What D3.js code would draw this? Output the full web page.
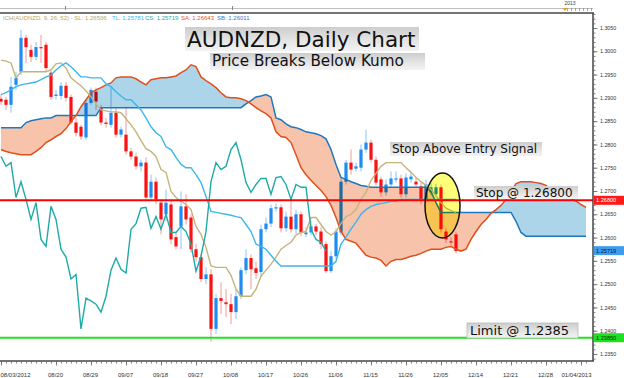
<!DOCTYPE html>
<html><head><meta charset="utf-8">
<script src="https://cdn.jsdelivr.net/npm/d3@7"></script>
<style>
html,body{margin:0;padding:0;background:#fff;}
svg{display:block;}
</style></head><body>
<svg id="c" width="624" height="378"></svg>
<script>
// ---------- DATA ----------
const tickIndex  = [0,11,18,25,32,39,46,53,60,67,74,81,88,95,102,109,116];
const tickLabels = ["08/03/2012","08/20","08/29","09/07","09/18","09/27","10/08","10/17","10/26","11/06","11/15","11/26","12/05","12/14","12/21","12/28","01/04/2013"];
const priceTicks = [1.2350,1.2400,1.2450,1.2500,1.2550,1.2600,1.2650,1.2700,1.2750,1.2800,1.2850,1.2900,1.2950,1.3000,1.3050];

const open = [1.2898,1.2896,1.2885,1.2928,1.2956,1.3029,1.3003,1.2988,1.3009,1.3014,
1.2954,1.2904,1.2904,1.2926,1.2902,1.2847,1.2838,1.2815,1.2889,1.2913,
1.2879,1.2847,1.2842,1.2868,1.2821,1.2821,1.2785,1.2774,1.2753,1.2761,
1.2686,1.2720,1.2675,1.2650,1.2671,1.2601,1.2624,1.2667,1.2643,1.2575,
1.2558,1.2511,1.2521,1.2404,1.2470,1.2461,1.2457,1.2440,1.2474,1.2530,
1.2556,1.2534,1.2526,1.2618,1.2630,1.2663,1.2665,1.2620,1.2645,1.2618,
1.2650,1.2607,1.2611,1.2624,1.2613,1.2586,1.2528,1.2560,1.2611,1.2720,
1.2761,1.2748,1.2750,1.2789,1.2804,1.2767,1.2725,1.2697,1.2714,1.2725,
1.2727,1.2693,1.2725,1.2720,1.2710,1.2682,1.2697,1.2693,1.2708,1.2613,
1.2592,1.2607];
const high = [1.2907,1.2902,1.2945,1.2956,1.3046,1.3035,1.3014,1.3020,1.3035,1.3020,
1.2960,1.2917,1.2934,1.2934,1.2907,1.2857,1.2842,1.2896,1.2922,1.2922,
1.2885,1.2857,1.2922,1.2879,1.2838,1.2881,1.2793,1.2782,1.2767,1.2772,
1.2735,1.2729,1.2682,1.2703,1.2682,1.2613,1.2699,1.2693,1.2650,1.2586,
1.2564,1.2536,1.2532,1.2479,1.2504,1.2489,1.2479,1.2489,1.2536,1.2575,
1.2564,1.2549,1.2628,1.2643,1.2671,1.2673,1.2671,1.2656,1.2684,1.2660,
1.2656,1.2622,1.2635,1.2630,1.2622,1.2592,1.2571,1.2620,1.2729,1.2767,
1.2789,1.2761,1.2800,1.2832,1.2810,1.2774,1.2731,1.2725,1.2742,1.2742,
1.2735,1.2738,1.2742,1.2729,1.2718,1.2725,1.2718,1.2716,1.2714,1.2620,
1.2601,1.2613];
const low = [1.2885,1.2874,1.2868,1.2917,1.2949,1.2975,1.2977,1.2981,1.2975,1.2956,
1.2896,1.2896,1.2896,1.2892,1.2842,1.2817,1.2810,1.2810,1.2885,1.2874,
1.2842,1.2836,1.2836,1.2815,1.2815,1.2778,1.2767,1.2746,1.2742,1.2678,
1.2682,1.2671,1.2607,1.2635,1.2586,1.2575,1.2575,1.2628,1.2568,1.2549,
1.2504,1.2500,1.2376,1.2393,1.2436,1.2429,1.2414,1.2425,1.2468,1.2521,
1.2489,1.2511,1.2515,1.2611,1.2622,1.2656,1.2611,1.2613,1.2611,1.2607,
1.2603,1.2601,1.2605,1.2605,1.2575,1.2524,1.2524,1.2553,1.2605,1.2714,
1.2735,1.2742,1.2742,1.2782,1.2761,1.2712,1.2688,1.2690,1.2708,1.2718,
1.2686,1.2686,1.2718,1.2708,1.2671,1.2675,1.2690,1.2686,1.2611,1.2588,
1.2583,1.2566];
const close = [1.2892,1.2885,1.2924,1.2943,1.3029,1.3009,1.2988,1.3009,1.3007,1.2964,
1.2902,1.2907,1.2926,1.2900,1.2847,1.2825,1.2817,1.2889,1.2917,1.2892,
1.2847,1.2844,1.2868,1.2821,1.2832,1.2785,1.2774,1.2753,1.2761,1.2686,
1.2720,1.2682,1.2639,1.2675,1.2596,1.2581,1.2667,1.2639,1.2575,1.2558,
1.2511,1.2521,1.2404,1.2470,1.2464,1.2457,1.2440,1.2474,1.2530,1.2556,
1.2532,1.2524,1.2618,1.2630,1.2663,1.2665,1.2620,1.2645,1.2618,1.2650,
1.2611,1.2611,1.2624,1.2613,1.2586,1.2528,1.2560,1.2613,1.2720,1.2761,
1.2746,1.2753,1.2789,1.2804,1.2767,1.2718,1.2697,1.2714,1.2727,1.2727,
1.2693,1.2729,1.2731,1.2714,1.2682,1.2714,1.2708,1.2708,1.2618,1.2596,
1.2590,1.2571];

const tenkan = [1.2981,1.2979,1.2975,1.2943,1.2956,1.2956,1.2956,1.2956,1.2956,1.2956,
1.2960,1.2973,1.2975,1.2964,1.2943,1.2934,1.2926,1.2915,1.2902,1.2887,
1.2874,1.2872,1.2870,1.2870,1.2868,1.2855,1.2842,1.2827,1.2808,1.2791,
1.2785,1.2774,1.2746,1.2740,1.2699,1.2686,1.2678,1.2671,1.2660,1.2624,
1.2607,1.2579,1.2539,1.2536,1.2536,1.2536,1.2519,1.2489,1.2474,1.2474,
1.2474,1.2489,1.2517,1.2530,1.2543,1.2558,1.2575,1.2583,1.2590,1.2605,
1.2611,1.2613,1.2643,1.2643,1.2628,1.2613,1.2605,1.2613,1.2630,1.2645,
1.2650,1.2660,1.2682,1.2697,1.2723,1.2738,1.2753,1.2761,1.2761,1.2761,
1.2761,1.2750,1.2740,1.2729,1.2720,1.2712,1.2703,1.2690,1.2675,1.2663,
1.2658,1.2654];
const kijun = [1.2907,1.2911,1.2917,1.2924,1.2928,1.2930,1.2932,1.2934,1.2939,1.2945,
1.2949,1.2960,1.2969,1.2975,1.2967,1.2956,1.2945,1.2945,1.2943,1.2943,
1.2943,1.2930,1.2924,1.2913,1.2904,1.2896,1.2896,1.2885,1.2874,1.2857,
1.2838,1.2825,1.2817,1.2795,1.2789,1.2772,1.2757,1.2750,1.2750,1.2735,
1.2718,1.2688,1.2656,1.2654,1.2652,1.2650,1.2648,1.2645,1.2643,1.2628,
1.2613,1.2586,1.2581,1.2575,1.2562,1.2549,1.2539,1.2539,1.2539,1.2539,
1.2539,1.2539,1.2539,1.2539,1.2539,1.2539,1.2539,1.2549,1.2586,1.2601,
1.2618,1.2633,1.2650,1.2660,1.2667,1.2671,1.2673,1.2675,1.2678,1.2678,
1.2682,1.2682,1.2682,1.2682,1.2682,1.2682,1.2682,1.2682,1.2682,1.2682,
1.2682,1.2682];
const senkouA = [1.2789,1.2785,1.2782,1.2780,1.2778,1.2778,1.2778,1.2785,1.2793,1.2804,
1.2810,1.2817,1.2823,1.2834,1.2849,1.2862,1.2881,1.2896,1.2911,1.2917,
1.2922,1.2928,1.2932,1.2943,1.2945,1.2945,1.2945,1.2941,1.2934,1.2928,
1.2939,1.2941,1.2943,1.2943,1.2945,1.2947,1.2954,1.2960,1.2971,1.2967,
1.2945,1.2937,1.2930,1.2922,1.2911,1.2902,1.2900,1.2900,1.2898,1.2894,
1.2887,1.2879,1.2872,1.2866,1.2857,1.2827,1.2817,1.2815,1.2804,1.2778,
1.2750,1.2735,1.2723,1.2712,1.2701,1.2688,1.2669,1.2643,1.2613,1.2596,
1.2592,1.2588,1.2575,1.2562,1.2558,1.2556,1.2551,1.2539,1.2549,1.2553,
1.2553,1.2556,1.2560,1.2562,1.2566,1.2571,1.2575,1.2575,1.2575,1.2579,
1.2581,1.2575,1.2571,1.2575,1.2596,1.2613,1.2628,1.2639,1.2652,1.2660,
1.2669,1.2682,1.2699,1.2716,1.2720,1.2720,1.2720,1.2718,1.2716,1.2712,
1.2703,1.2697,1.2690,1.2686,1.2684,1.2678,1.2671,1.2665];
const senkouB = [1.2836,1.2836,1.2836,1.2836,1.2836,1.2847,1.2851,1.2853,1.2855,1.2857,
1.2857,1.2862,1.2862,1.2862,1.2862,1.2862,1.2862,1.2862,1.2862,1.2862,
1.2879,1.2879,1.2879,1.2879,1.2879,1.2879,1.2879,1.2879,1.2879,1.2879,
1.2879,1.2879,1.2879,1.2879,1.2879,1.2879,1.2879,1.2879,1.2879,1.2879,
1.2879,1.2879,1.2879,1.2879,1.2879,1.2879,1.2879,1.2879,1.2879,1.2887,
1.2894,1.2902,1.2904,1.2907,1.2902,1.2857,1.2853,1.2844,1.2838,1.2836,
1.2832,1.2827,1.2825,1.2823,1.2819,1.2812,1.2789,1.2757,1.2729,1.2725,
1.2720,1.2716,1.2712,1.2710,1.2708,1.2708,1.2708,1.2708,1.2708,1.2708,
1.2708,1.2708,1.2708,1.2708,1.2708,1.2708,1.2699,1.2675,1.2654,1.2654,
1.2654,1.2654,1.2654,1.2654,1.2654,1.2654,1.2654,1.2654,1.2654,1.2654,
1.2654,1.2654,1.2654,1.2635,1.2611,1.2603,1.2603,1.2603,1.2603,1.2603,
1.2603,1.2603,1.2603,1.2603,1.2603,1.2603,1.2603,1.2603];

const chikouShift = 26;
const stopLevel = 1.26800, limitLevel = 1.23850, lastPrice = 1.25719;
const legendParts = [
  {text:"ICH(AUDNZD, 9, 26, 52) - SL: 1.26506", color:"#b5a766"},
  {text:"TL: 1.25781", color:"#3db5ee"},
  {text:"CS: 1.25719", color:"#1fa8a6"},
  {text:"SA: 1.26643", color:"#e5532c"},
  {text:"SB: 1.26011", color:"#3a78c8"}
];
const legendX = [3,112,145,181,217];

// ---------- SETUP ----------
const svg = d3.select("#c");
const plotR = 593, plotT = 13, plotB = 361;
const x = d3.scaleLinear().domain([0,117]).range([1,586]);
const y = d3.scaleLinear().domain([1.2350,1.3050]).range([354,28]);

const defs = svg.append("defs");
defs.append("clipPath").attr("id","plot").append("rect")
  .attr("x",0).attr("y",plotT).attr("width",plotR).attr("height",plotB-plotT);
const idxK = d3.range(senkouA.length);
defs.append("clipPath").attr("id","cAbove").append("path")
  .attr("d", d3.area().x(i=>x(i)).y0(0).y1(i=>y(senkouA[i]))(idxK));
defs.append("clipPath").attr("id","cBelow").append("path")
  .attr("d", d3.area().x(i=>x(i)).y0(400).y1(i=>y(senkouA[i]))(idxK));
const grad = defs.append("linearGradient").attr("id","boxg").attr("x1",0).attr("y1",0).attr("x2",0).attr("y2",1);
grad.append("stop").attr("offset","0").attr("stop-color","#cdcdcd");
grad.append("stop").attr("offset","0.55").attr("stop-color","#e4e4e4");
grad.append("stop").attr("offset","1").attr("stop-color","#f3f3f3");

// top strip
svg.append("line").attr("x1",0).attr("x2",plotR).attr("y1",8.5).attr("y2",8.5).attr("stroke","#b0b0b0").attr("stroke-width",0.8);
[65,232].forEach(t=>svg.append("line").attr("x1",t+0.5).attr("x2",t+0.5).attr("y1",6).attr("y2",10).attr("stroke","#888"));
d3.range(567,593,4).forEach(t=>svg.append("line").attr("x1",t+0.5).attr("x2",t+0.5).attr("y1",8).attr("y2",11).attr("stroke","#888").attr("stroke-width",0.7));
svg.append("text").attr("x",570).attr("y",5).attr("text-anchor","middle").attr("font-family","Liberation Sans, Arial").attr("font-size",5).attr("fill","#444").text("2013");
svg.append("path").attr("d","M562.5,8 L567.5,8 L565,11 Z").attr("fill","#e8a020");

// legend
legendParts.forEach((p,k)=>svg.append("text").attr("x",legendX[k]).attr("y",19.5)
  .attr("font-family","Liberation Sans, Arial").attr("font-size",6).attr("fill",p.color).text(p.text));

const plot = svg.append("g").attr("clip-path","url(#plot)");

// candles
const idxC = d3.range(open.length);
const gc = plot.append("g");
gc.selectAll("line.w").data(idxC).join("line").attr("class","w")
  .attr("x1",i=>x(i)).attr("x2",i=>x(i)).attr("y1",i=>y(high[i])).attr("y2",i=>y(low[i]))
  .attr("stroke",i=>close[i]>=open[i]?"#8cc4f4":"#f49a9a").attr("stroke-width",1);
gc.selectAll("rect.b").data(idxC).join("rect").attr("class","b")
  .attr("x",i=>x(i)-1.6).attr("width",3.2)
  .attr("y",i=>y(Math.max(open[i],close[i])))
  .attr("height",i=>Math.max(1.2, y(Math.min(open[i],close[i]))-y(Math.max(open[i],close[i]))))
  .attr("fill",i=>close[i]>=open[i]?"#1e8cf0":"#ff1010");

// cloud
const band = d3.area().x(i=>x(i)).y0(i=>y(senkouA[i])).y1(i=>y(senkouB[i]));
const gk = plot.append("g").style("mix-blend-mode","multiply");
gk.append("g").attr("clip-path","url(#cAbove)").append("path").attr("d",band(idxK)).attr("fill","#f7c3ab");
gk.append("g").attr("clip-path","url(#cBelow)").append("path").attr("d",band(idxK)).attr("fill","#add5ea");

const line = arr => d3.line().x(i=>x(i)).y(i=>y(arr[i]));
plot.append("path").attr("d",line(senkouB)(idxK)).attr("fill","none").attr("stroke","#1f78bd").attr("stroke-width",1.5);
plot.append("path").attr("d",line(senkouA)(idxK)).attr("fill","none").attr("stroke","#e0501c").attr("stroke-width",1.5);
plot.append("path").attr("d",line(tenkan)(idxC)).attr("fill","none").attr("stroke","#c4b47c").attr("stroke-width",1.4);
plot.append("path").attr("d",line(kijun)(idxC)).attr("fill","none").attr("stroke","#3ab7ee").attr("stroke-width",1.4);
const idxCh = d3.range(chikouShift, close.length);
plot.append("path").attr("d",d3.line().x(i=>x(i-chikouShift)).y(i=>y(close[i]))(idxCh))
  .attr("fill","none").attr("stroke","#1faaa8").attr("stroke-width",1.4);

// horizontal levels
plot.append("line").attr("x1",0).attr("x2",plotR).attr("y1",y(stopLevel)).attr("y2",y(stopLevel)).attr("stroke","#ff0000").attr("stroke-width",2);
plot.append("line").attr("x1",0).attr("x2",plotR).attr("y1",y(limitLevel)).attr("y2",y(limitLevel)).attr("stroke","#22e022").attr("stroke-width",2);

// ellipse
plot.append("ellipse").attr("cx",x(88)+1.5).attr("cy",205.5).attr("rx",17.5).attr("ry",32.5)
  .attr("fill","#ffff7a").attr("stroke","none").style("mix-blend-mode","multiply");
plot.append("ellipse").attr("cx",x(88)+1.5).attr("cy",205.5).attr("rx",17.5).attr("ry",32.5)
  .attr("fill","none").attr("stroke","#111").attr("stroke-width",1.5);

// frame
svg.append("line").attr("x1",0).attr("x2",plotR+1).attr("y1",plotT).attr("y2",plotT).attr("stroke","#444").attr("stroke-width",1.5);
svg.append("line").attr("x1",0).attr("x2",plotR+1).attr("y1",plotB).attr("y2",plotB).attr("stroke","#444").attr("stroke-width",1.5);
svg.append("line").attr("x1",plotR).attr("x2",plotR).attr("y1",plotT).attr("y2",plotB).attr("stroke","#444").attr("stroke-width",1.5);

// right axis
const ay = svg.append("g").attr("transform",`translate(${plotR+0.5},0)`);
ay.call(d3.axisRight(y).tickValues(d3.range(12340,13081,10).map(v=>v/10000).filter(v=>y(v)>plotT && y(v)<plotB)).tickSize(2).tickFormat(""));
ay.call(g=>g.select(".domain").remove());
const ay2 = svg.append("g").attr("transform",`translate(${plotR+0.5},0)`);
ay2.call(d3.axisRight(y).tickValues(priceTicks).tickSize(4).tickPadding(2.5).tickFormat(d3.format(".4f")));
ay2.call(g=>g.select(".domain").remove());
[ay,ay2].forEach(g=>g.selectAll("line").attr("stroke","#666").attr("stroke-width",0.8));
ay2.selectAll("text").attr("font-family","Liberation Sans, Arial").attr("font-size",5.3).attr("fill","#333");

// bottom axis
const ax = svg.append("g").attr("transform",`translate(0,${plotB+0.5})`);
ax.call(d3.axisBottom(x).tickValues(d3.range(0,118)).tickSize(2).tickFormat(""));
ax.call(g=>g.select(".domain").remove());
const ax2 = svg.append("g").attr("transform",`translate(0,${plotB+0.5})`);
ax2.call(d3.axisBottom(x).tickValues(tickIndex).tickSize(4).tickPadding(7).tickFormat((d,k)=>tickLabels[k]));
ax2.call(g=>g.select(".domain").remove());
[ax,ax2].forEach(g=>g.selectAll("line").attr("stroke","#666").attr("stroke-width",0.8));
ax2.selectAll("text").attr("font-family","Liberation Sans, Arial").attr("font-size",6).attr("fill","#333").attr("dx",-1);
ax2.selectAll(".tick").filter((d,k)=>k===0).select("text").attr("text-anchor","start").attr("dx",-1);
ax2.selectAll(".tick").filter((d,k)=>k===tickIndex.length-1).select("text").attr("text-anchor","end").attr("dx",591-x(116));

// price boxes
[{v:stopLevel,t:"1.26800",bg:"#ff1a1a",fg:"#fff"},{v:lastPrice,t:"1.25719",bg:"#3d9cf0",fg:"#0a1a40"},{v:limitLevel,t:"1.23850",bg:"#1ee01e",fg:"#0a300a"}]
.forEach(b=>{
  svg.append("rect").attr("x",plotR+1).attr("y",y(b.v)-4.5).attr("width",30).attr("height",9).attr("fill",b.bg);
  svg.append("text").attr("x",plotR+3).attr("y",y(b.v)+2).attr("font-family","Liberation Sans, Arial").attr("font-size",5.6).attr("fill",b.fg).text(b.t);
});

// annotation boxes
function box(x0,y0,w,h,txt,fs,bl,tx,border){
  svg.append("rect").attr("x",x0).attr("y",y0).attr("width",w).attr("height",h).attr("fill","url(#boxg)")
    .attr("stroke",border||"none").attr("stroke-width",0.8);
  svg.append("text").attr("x",tx).attr("y",bl).attr("font-family","DejaVu Sans, Verdana, sans-serif")
    .attr("font-size",fs).attr("fill","#111").text(txt);
}
box(185,27,234,24,"AUDNZD, Daily Chart",21.5,47,187);
box(210,53,215,17,"Price Breaks Below Kumo",15.2,66,212);
box(390,142,152,14,"Stop Above Entry Signal",12,153,392);
box(474,186,104,13,"Stop @ 1.26800",12,197,476);
box(467,323,111,15,"Limit @ 1.2385",13,335,470,"#bbb");
</script>
</body></html>
